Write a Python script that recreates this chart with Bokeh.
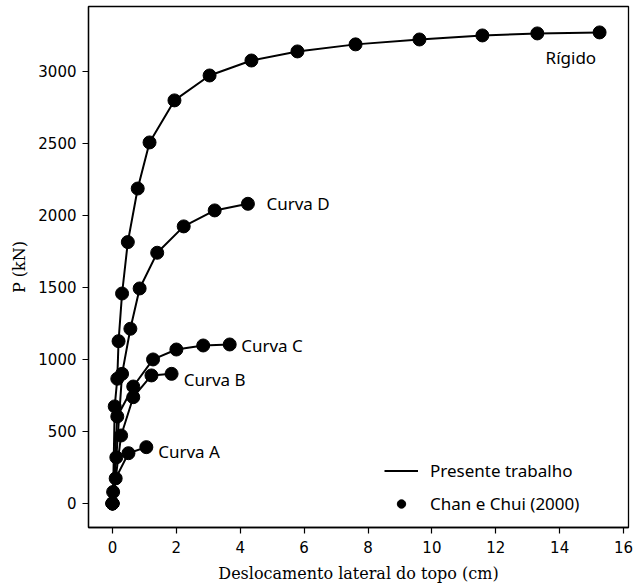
from bokeh.plotting import figure
from bokeh.models import Range1d, FixedTicker, Legend, LegendItem
from bokeh.core.properties import value
from bokeh.embed import file_html
from bokeh.resources import INLINE

# Data
rigido_x = [0.0, 0.02, 0.07, 0.15, 0.19, 0.30, 0.48, 0.79, 1.16, 1.94, 3.04, 4.35, 5.79, 7.61, 9.61, 11.58, 13.30, 15.25]
rigido_y = [0, 80, 674, 866, 1127, 1458, 1815, 2187, 2507, 2799, 2972, 3076, 3139, 3188, 3222, 3250, 3264, 3271]

curva_d_x = [0.0, 0.12, 0.30, 0.56, 0.85, 1.40, 2.23, 3.20, 4.24]
curva_d_y = [0, 320, 900, 1213, 1493, 1741, 1924, 2035, 2081]

curva_c_x = [0.0, 0.15, 0.65, 1.27, 2.00, 2.84, 3.67]
curva_c_y = [0, 604, 812, 1000, 1069, 1097, 1104]

curva_b_x = [0.0, 0.27, 0.65, 1.22, 1.85]
curva_b_y = [0, 472, 738, 889, 900]

curva_a_x = [0.0, 0.10, 0.50, 1.06]
curva_a_y = [0, 174, 349, 391]

series = [(rigido_x, rigido_y), (curva_d_x, curva_d_y), (curva_c_x, curva_c_y),
          (curva_b_x, curva_b_y), (curva_a_x, curva_a_y)]

label_text = ["Rígido", "Curva D", "Curva C", "Curva B", "Curva A"]
label_x = [13.56, 4.82, 4.03, 2.23, 1.43]
label_y = [3095, 2085, 1097, 861, 361]

x_ticks = [0, 2, 4, 6, 8, 10, 12, 14, 16]
y_ticks = [0, 500, 1000, 1500, 2000, 2500, 3000]

p = figure(width=635, height=586, output_backend="svg", toolbar_location=None,
           x_range=Range1d(-0.751, 16.155), y_range=Range1d(-167, 3451),
           min_border_left=88, min_border_right=7, min_border_top=6, min_border_bottom=59)
p.frame_width = 540
p.frame_height = 521

p.xgrid.visible = False
p.ygrid.visible = False
p.outline_line_color = "black"
p.outline_line_width = 1.3
p.outline_line_alpha = 1
p.background_fill_color = "white"
p.border_fill_color = "white"

for ax in (p.xaxis, p.yaxis):
    ax.axis_line_color = "black"
    ax.axis_line_width = 1.3
    ax.major_tick_line_color = "black"
    ax.major_tick_line_width = 1.2
    ax.major_tick_out = 6
    ax.major_tick_in = 0
    ax.minor_tick_line_color = None
    ax.major_label_text_font = "DejaVu Sans"
    ax.major_label_text_font_size = "15px"
    ax.major_label_text_color = "black"
    ax.axis_label_text_font = "DejaVu Serif"
    ax.axis_label_text_font_size = "16px"
    ax.axis_label_text_font_style = "normal"
    ax.axis_label_text_color = "black"

p.xaxis.ticker = FixedTicker(ticks=x_ticks)
p.yaxis.ticker = FixedTicker(ticks=y_ticks)
p.xaxis.axis_label = "Deslocamento lateral do topo (cm)"
p.yaxis.axis_label = "P (kN)"
p.xaxis.major_label_standoff = 7
p.yaxis.major_label_standoff = 6
p.xaxis.axis_label_standoff = 8
p.yaxis.axis_label_standoff = 6

line_r = None
circ_r = None
for xs, ys in series:
    lr = p.line(xs, ys, line_color="black", line_width=2)
    cr = p.scatter(xs, ys, size=13, marker="circle", fill_color="black", line_color="black")
    line_r = line_r or lr
    circ_r = circ_r or cr

p.text(x=label_x, y=label_y, text=label_text, text_font=value("Noto Sans"),
       text_font_size="17px", text_color="black", text_baseline="middle", text_align="left")

legend = Legend(items=[LegendItem(label="Presente trabalho", renderers=[line_r]),
                       LegendItem(label="Chan e Chui (2000)", renderers=[circ_r])],
                location=(296, 12), orientation="vertical")
legend.border_line_color = None
legend.background_fill_alpha = 0
legend.padding = 0
legend.margin = 0
legend.spacing = 10
legend.glyph_width = 34
legend.glyph_height = 21
legend.label_height = 21
legend.label_standoff = 12
legend.label_text_font = "Noto Sans"
legend.label_text_font_size = "17px"
legend.label_text_color = "black"
p.add_layout(legend, "center")

open("out.html", "w").write(file_html(p, INLINE))
